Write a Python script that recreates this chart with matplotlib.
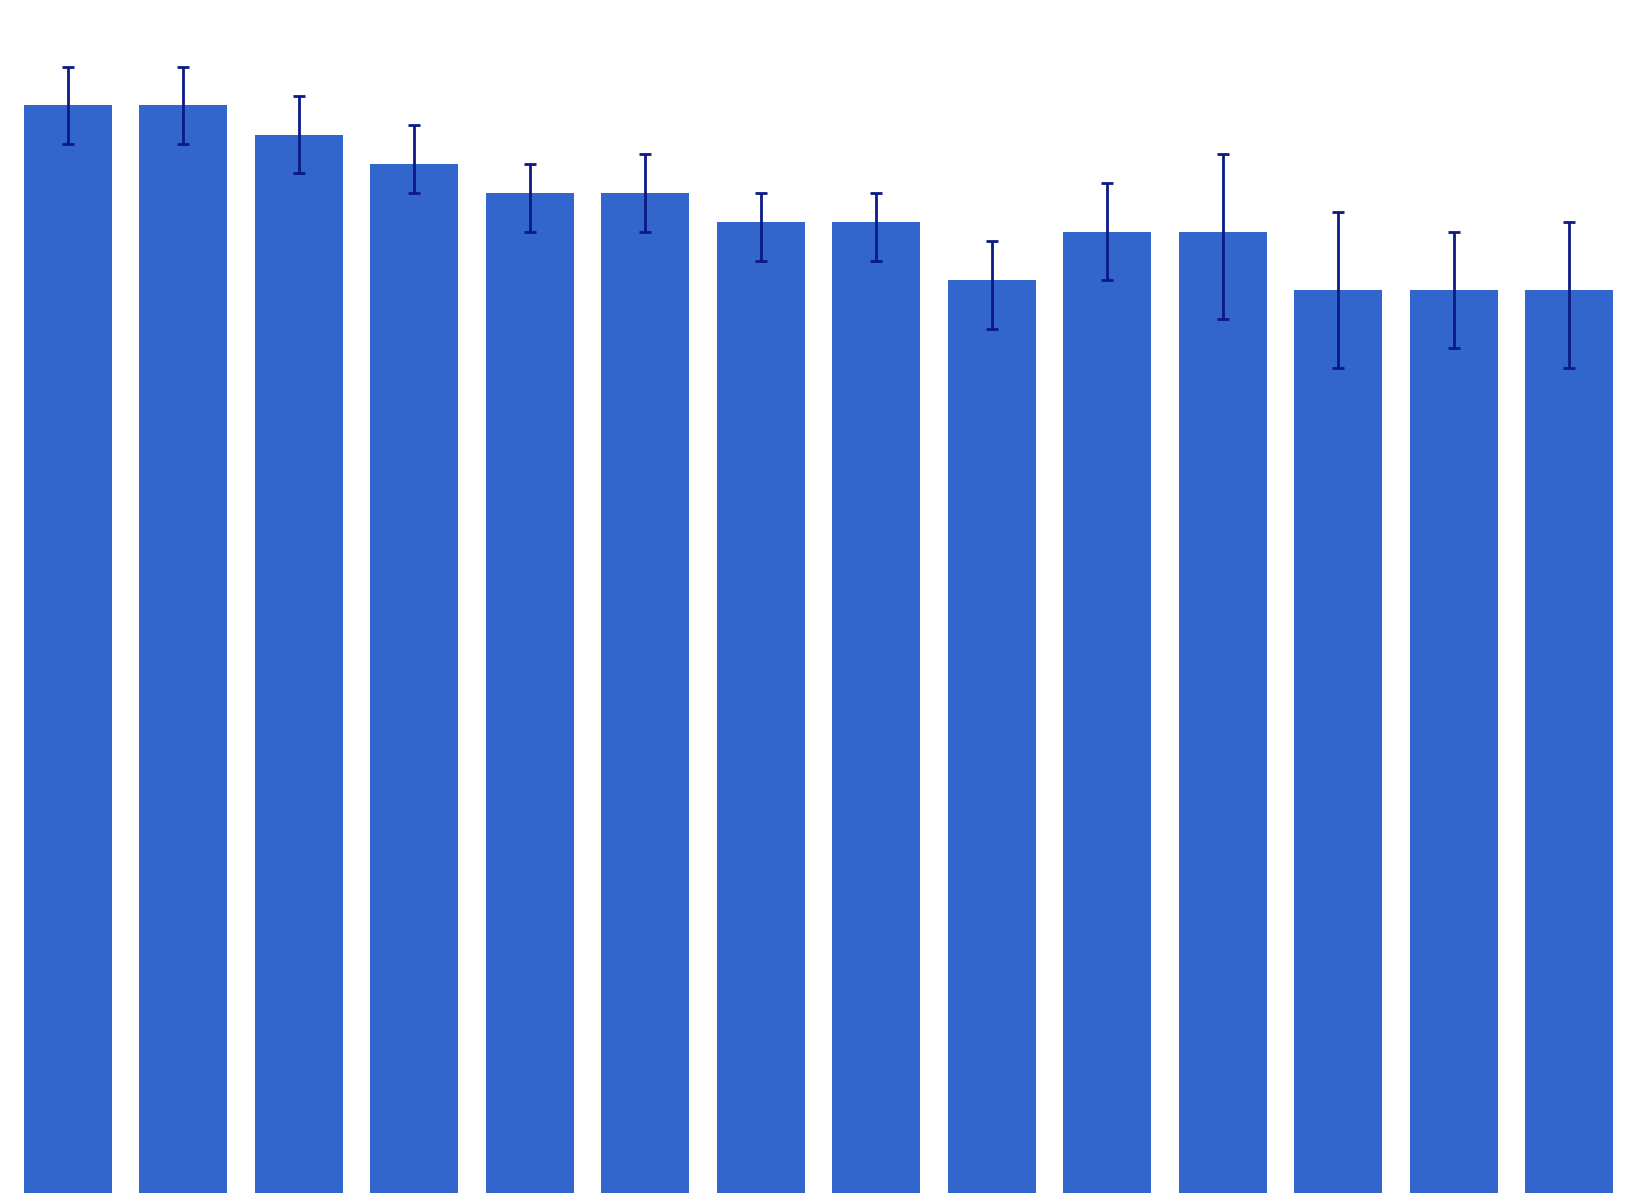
import numpy as np
import matplotlib.pyplot as plt

# values (arbitrary units)
values = [112.0, 112.0, 109.0, 106.0, 103.0, 103.0, 100.0, 100.0, 94.0, 99.0, 99.0, 93.0, 93.0, 93.0]
err_low = [4.0, 4.0, 4.0, 3.0, 4.0, 4.0, 4.0, 4.0, 5.0, 5.0, 9.0, 8.0, 6.0, 8.0]
err_high = [4.0, 4.0, 4.0, 4.0, 3.0, 4.0, 3.0, 3.0, 4.0, 5.0, 8.0, 8.0, 6.0, 7.0]

x = np.arange(len(values))

fig = plt.figure(figsize=(16.34, 12.03), dpi=100)
ax = fig.add_axes([10 / 1634, 10 / 1203, 1617 / 1634, 1172 / 1203])
ax.bar(x, values, width=0.76, color="#3366CC")
ax.errorbar(x, values, yerr=[err_low, err_high], fmt="none",
            ecolor="#0B1A85", elinewidth=2, capsize=4, capthick=2)
ax.set_xlim(-0.5, len(values) - 0.5)
ax.set_ylim(0, 120.7)
ax.axis("off")
fig.savefig("out.png", dpi=100)
